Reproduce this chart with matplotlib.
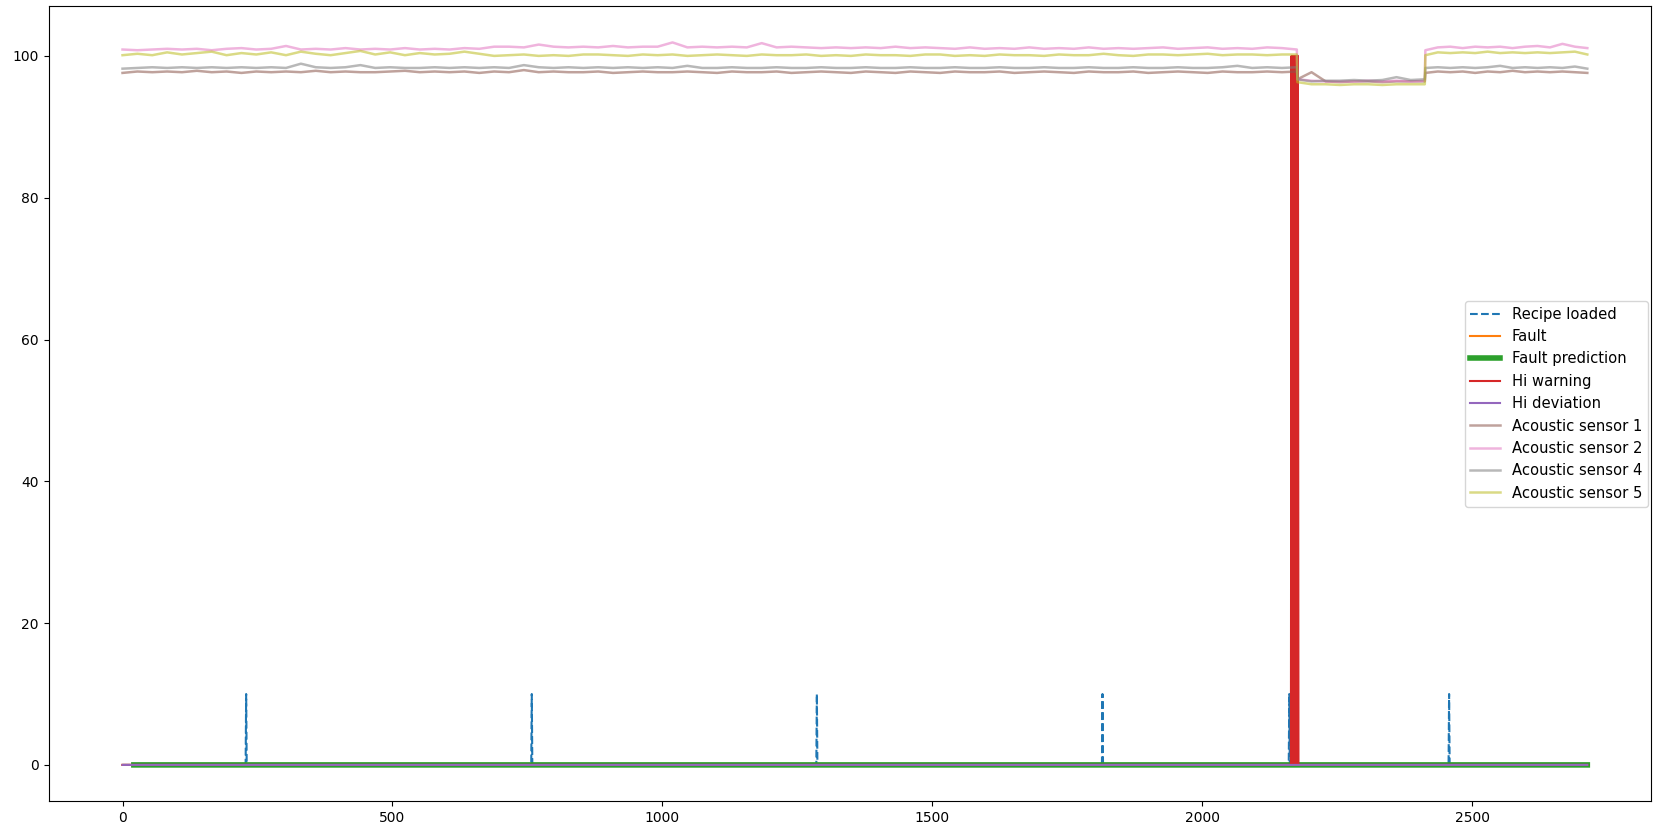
import numpy as np
import matplotlib
matplotlib.use("Agg")
import matplotlib.pyplot as plt

# ---- process timeline --------------------------------------------------
n_samples = 2714
recipe_load_samples = [229, 758, 1286, 1815, 2161, 2457]
recipe_level = 10
hi_warning_start = 2165
hi_warning_burst = [100, 0, 100, 0, 100, 0, 100, 0, 100, 0, 100, 0, 100]
prediction_start = 21

# segment boundaries of the acoustic recordings (sample index)
pre_span = (0, 2175)
low_span = (2176, 2412)
post_span = (2413, 2713)

# ---- acoustic sensor readings --------------------------------------------
sensor1_pre = [
    97.6, 97.8, 97.7, 97.8, 97.7, 97.9, 97.7, 97.8, 97.6, 97.8,
    97.7, 97.8, 97.7, 97.9, 97.7, 97.8, 97.7, 97.7, 97.8, 97.9,
    97.7, 97.8, 97.7, 97.8, 97.6, 97.8, 97.7, 98.0, 97.7, 97.8,
    97.7, 97.7, 97.8, 97.6, 97.7, 97.8, 97.7, 97.7, 97.8, 97.7,
    97.6, 97.8, 97.7, 97.7, 97.8, 97.6, 97.7, 97.8, 97.7, 97.6,
    97.8, 97.7, 97.6, 97.8, 97.7, 97.6, 97.8, 97.7, 97.7, 97.8,
    97.6, 97.7, 97.8, 97.7, 97.6, 97.8, 97.7, 97.7, 97.8, 97.6,
    97.7, 97.8, 97.7, 97.6, 97.8, 97.7, 97.7, 97.8, 97.7, 97.8]
sensor1_low = [96.7, 97.7, 96.4, 96.3, 96.4, 96.4, 96.3, 96.4, 96.4, 96.4]
sensor1_post = [97.6, 97.8, 97.7, 97.8, 97.6, 97.8, 97.7, 97.9, 97.7, 97.8,
                97.7, 97.8, 97.7, 97.6]

sensor2_pre = [
    100.9, 100.8, 100.9, 101.0, 100.9, 101.0, 100.8, 101.0, 101.1, 100.9,
    101.0, 101.4, 100.9, 101.0, 100.9, 101.1, 100.9, 101.0, 100.9, 101.1,
    100.9, 101.0, 100.9, 101.1, 101.0, 101.3, 101.3, 101.2, 101.6, 101.3,
    101.2, 101.3, 101.2, 101.4, 101.2, 101.3, 101.3, 101.9, 101.2, 101.3,
    101.2, 101.3, 101.2, 101.8, 101.2, 101.3, 101.2, 101.1, 101.2, 101.1,
    101.2, 101.1, 101.3, 101.1, 101.2, 101.1, 101.0, 101.2, 101.0, 101.1,
    101.0, 101.2, 101.0, 101.1, 101.0, 101.2, 101.0, 101.1, 101.0, 101.1,
    101.2, 101.0, 101.1, 101.2, 101.0, 101.1, 101.0, 101.2, 101.1, 100.9]
sensor2_low = [96.7, 96.5, 96.4, 96.4, 96.4, 96.5, 96.4, 96.5, 96.4, 96.5]
sensor2_post = [100.8, 101.2, 101.3, 101.1, 101.3, 101.2, 101.3, 101.1, 101.3,
                101.4, 101.2, 101.7, 101.3, 101.1]

sensor4_pre = [
    98.2, 98.3, 98.4, 98.3, 98.4, 98.3, 98.4, 98.3, 98.4, 98.3,
    98.4, 98.3, 98.9, 98.4, 98.3, 98.4, 98.7, 98.3, 98.4, 98.3,
    98.3, 98.4, 98.3, 98.4, 98.3, 98.4, 98.3, 98.7, 98.4, 98.3,
    98.4, 98.3, 98.4, 98.3, 98.4, 98.3, 98.4, 98.3, 98.6, 98.3,
    98.3, 98.4, 98.3, 98.3, 98.4, 98.3, 98.3, 98.4, 98.3, 98.3,
    98.4, 98.3, 98.3, 98.4, 98.3, 98.3, 98.4, 98.3, 98.3, 98.4,
    98.3, 98.3, 98.4, 98.3, 98.3, 98.4, 98.3, 98.3, 98.4, 98.3,
    98.3, 98.4, 98.3, 98.3, 98.4, 98.6, 98.3, 98.4, 98.3, 98.4]
sensor4_low = [96.7, 96.4, 96.5, 96.5, 96.6, 96.5, 96.6, 97.0, 96.6, 96.7]
sensor4_post = [98.3, 98.4, 98.3, 98.4, 98.3, 98.4, 98.6, 98.3, 98.4, 98.3,
                98.4, 98.3, 98.5, 98.2]

sensor5_pre = [
    100.1, 100.3, 100.1, 100.5, 100.2, 100.4, 100.6, 100.1, 100.4, 100.2,
    100.5, 100.1, 100.6, 100.3, 100.1, 100.4, 100.7, 100.2, 100.5, 100.1,
    100.4, 100.2, 100.3, 100.6, 100.3, 100.0, 100.1, 100.2, 100.0, 100.1,
    100.0, 100.2, 100.2, 100.1, 100.0, 100.2, 100.1, 100.2, 100.0, 100.1,
    100.2, 100.1, 100.0, 100.2, 100.1, 100.1, 100.2, 100.0, 100.1, 100.0,
    100.2, 100.1, 100.1, 100.0, 100.2, 100.2, 100.0, 100.1, 100.0, 100.2,
    100.1, 100.1, 100.0, 100.2, 100.1, 100.1, 100.3, 100.1, 100.0, 100.2,
    100.2, 100.1, 100.2, 100.3, 100.1, 100.2, 100.2, 100.1, 100.2, 100.2]
sensor5_low = [96.3, 96.0, 96.0, 95.9, 96.0, 96.0, 95.9, 96.0, 96.0, 96.0]
sensor5_post = [100.1, 100.5, 100.4, 100.5, 100.4, 100.6, 100.4, 100.5, 100.4,
                100.5, 100.4, 100.5, 100.6, 100.2]

sensor_labels = ["Acoustic sensor 1", "Acoustic sensor 2",
                 "Acoustic sensor 4", "Acoustic sensor 5"]


def sensor_trace(pre, low, post):
    """Place the segment readings on the sample axis."""
    t = np.concatenate([np.linspace(*pre_span, len(pre)),
                        np.linspace(*low_span, len(low)),
                        np.linspace(*post_span, len(post))])
    return t, np.concatenate([pre, low, post])


# ---- status signals ------------------------------------------------------
t = np.arange(n_samples)
recipe_loaded = np.zeros(n_samples)
recipe_loaded[recipe_load_samples] = recipe_level
fault = np.zeros(n_samples)
fault_prediction = np.where(t >= prediction_start, 0.0, np.nan)
hi_warning = np.zeros(n_samples)
hi_warning[hi_warning_start:hi_warning_start + len(hi_warning_burst)] = hi_warning_burst
hi_deviation = np.zeros(n_samples)

fig = plt.figure(figsize=(16.57, 8.30), dpi=100)
ax = fig.add_axes([0.0293, 0.0349, 0.9671, 0.9575])

ax.plot(t, recipe_loaded, "--", color="C0", lw=1.5, label="Recipe loaded")
ax.plot(t, fault, color="C1", lw=1.5, label="Fault")
ax.plot(t, fault_prediction, color="C2", lw=4, label="Fault prediction")
ax.plot(t, hi_warning, color="C3", lw=1.5, label="Hi warning")
ax.plot(t, hi_deviation, color="C4", lw=1.5, label="Hi deviation")

traces = [
    (sensor1_pre, sensor1_low, sensor1_post, "C5"),
    (sensor2_pre, sensor2_low, sensor2_post, "C6"),
    (sensor4_pre, sensor4_low, sensor4_post, "C7"),
    (sensor5_pre, sensor5_low, sensor5_post, "C8"),
]
for (pre, low, post, color), label in zip(traces, sensor_labels):
    ts, vs = sensor_trace(pre, low, post)
    ax.plot(ts, vs, color=color, lw=1.8, alpha=0.55, label=label)

ax.set_xlim(-137, 2831)
ax.legend(loc="center right", fontsize=10.6, borderaxespad=0.2)

fig.savefig("out.png", dpi=100)
